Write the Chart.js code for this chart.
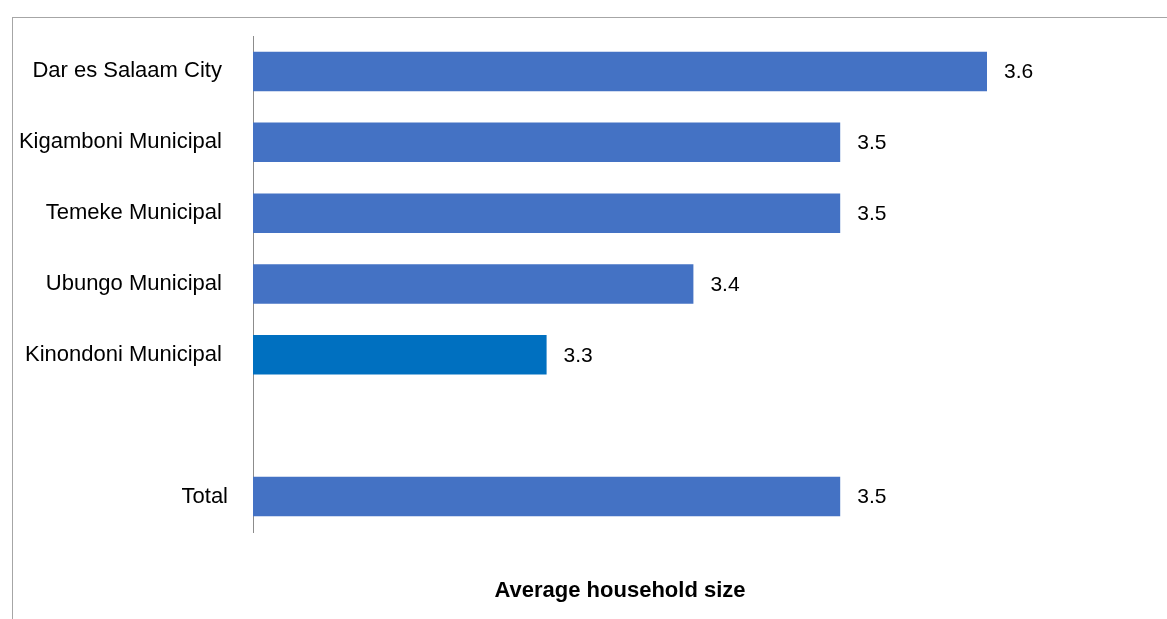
<!DOCTYPE html>
<html>
<head>
<meta charset="utf-8">
<script src="https://cdn.jsdelivr.net/npm/chart.js@4/dist/chart.umd.min.js"></script>
<style>
  html, body { margin: 0; padding: 0; background: #fff; overflow: hidden; }
  #frame { position: absolute; left: 12px; top: 17px; width: 1300px; height: 700px; border: 1px solid #a6a6a6; }
  #chart { position: absolute; left: 0; top: 0; }
</style>
</head>
<body>
<div id="frame"></div>
<canvas id="chart" width="1167" height="619"></canvas>
<script>
// data
const districts = ['Dar es Salaam City ', 'Kigamboni Municipal ', 'Temeke Municipal ', 'Ubungo Municipal ', 'Kinondoni Municipal ', '', 'Total'];
const hhSize = [3.6, 3.5, 3.5, 3.4, 3.3, null, 3.5];
const barColors = ['#4472C4', '#4472C4', '#4472C4', '#4472C4', '#0070C0', '#4472C4', '#4472C4'];
const axisTitle = 'Average household size';

const FONT = "'Liberation Sans', Arial, sans-serif";
Chart.defaults.color = '#000';

// value labels at the end of each bar
const valueLabels = {
  id: 'valueLabels',
  afterDatasetsDraw(chart) {
    const ctx = chart.ctx;
    const meta = chart.getDatasetMeta(0);
    ctx.save();
    ctx.font = '21px ' + FONT;
    ctx.fillStyle = '#000';
    ctx.textAlign = 'left';
    ctx.textBaseline = 'middle';
    meta.data.forEach((bar, i) => {
      const v = hhSize[i];
      if (v == null) return;
      ctx.fillText(v.toFixed(1), bar.x + 17, bar.y + 1);
    });
    ctx.restore();
  }
};

new Chart(document.getElementById('chart'), {
  type: 'bar',
  data: {
    labels: districts,
    datasets: [{
      data: hhSize,
      backgroundColor: barColors,
      borderWidth: 0,
      categoryPercentage: 1,
      barPercentage: 0.557,
    }],
  },
  plugins: [valueLabels],
  options: {
    indexAxis: 'y',
    responsive: false,
    animation: false,
    devicePixelRatio: 1,
    layout: { padding: { left: 0, top: 36, right: 180, bottom: 0 } },
    plugins: { legend: { display: false }, tooltip: { enabled: false } },
    scales: {
      x: {
        min: 3.1, max: 3.6,
        ticks: { display: false },
        grid: { display: false, drawTicks: false },
        border: { display: false },
        title: {
          display: true, text: axisTitle,
          font: { family: FONT, size: 22, weight: 'bold' },
          padding: { top: 40, bottom: 15 },
        },
        afterFit: (s) => { s.height = 87; },
      },
      y: {
        ticks: { font: { family: FONT, size: 22 }, padding: 25, crossAlign: 'near' },
        grid: { display: false, drawTicks: false },
        border: { display: true, color: '#8c8c8c', width: 1 },
        afterFit: (s) => { s.width = 253; s.paddingTop = 0; s.paddingBottom = 0; },
      },
    },
  },
});
</script>
</body>
</html>
